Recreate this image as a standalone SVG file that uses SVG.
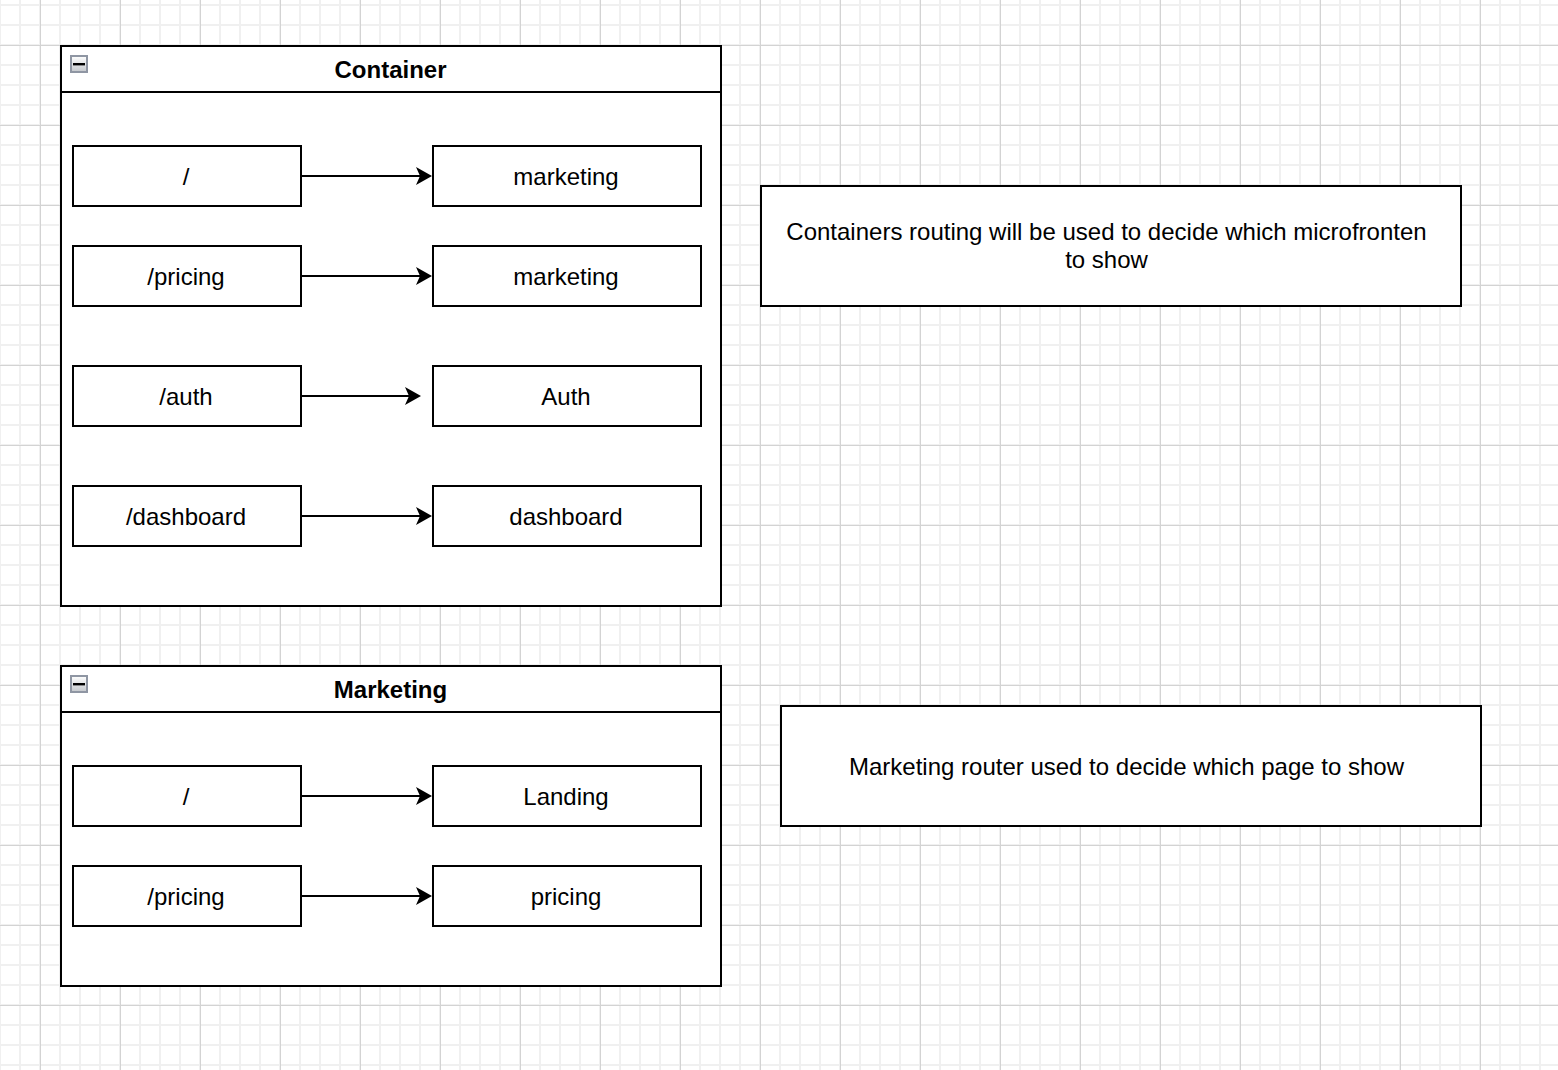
<svg xmlns="http://www.w3.org/2000/svg" width="1558" height="1070" viewBox="0 0 1558 1070">
  <style>
    .box { fill: #ffffff; stroke: #000000; stroke-width: 2; }
    .hdr { fill: none; stroke: #000000; stroke-width: 2; }
    .lbl { font-family: "Liberation Sans", Arial, Helvetica, sans-serif; font-size: 24px; fill: #000000; text-anchor: middle; }
    .ttl { font-family: "Liberation Sans", Arial, Helvetica, sans-serif; font-size: 24px; font-weight: bold; fill: #000000; text-anchor: middle; }
    .note { font-family: "Liberation Sans", Arial, Helvetica, sans-serif; font-size: 24px; fill: #000000; text-anchor: middle; }
    .edge { fill: none; stroke: #000000; stroke-width: 2; }
    .tog { fill: url(#togGrad); stroke: #8f96a3; stroke-width: 2; }
  </style>
  <defs>
    <pattern id="minor" patternUnits="userSpaceOnUse" x="-10" y="-5" width="20" height="20">
      <path d="M10 0 V20 M0 10 H20" fill="none" stroke="#f0f0f0" stroke-width="2"/>
    </pattern>
    <pattern id="major" patternUnits="userSpaceOnUse" x="0" y="5" width="80" height="80">
      <path d="M40.5 0 V80 M0 40.5 H80" fill="none" stroke="#d3d3d3" stroke-width="1"/>
    </pattern>
    <linearGradient id="togGrad" x1="0" y1="0" x2="0" y2="1">
      <stop offset="0" stop-color="#ffffff"/>
      <stop offset="1" stop-color="#c4c7cc"/>
    </linearGradient>
    <marker id="arrow" markerUnits="userSpaceOnUse" markerWidth="18" markerHeight="20" viewBox="0 0 18 20" refX="5" refY="10" orient="auto">
      <path d="M1 1 L17 10 L1 19 L5 10 Z" fill="#000000"/>
    </marker>
  </defs>

  <rect width="1558" height="1070" fill="#ffffff"/>
  <rect width="1558" height="1070" fill="url(#minor)"/>
  <rect width="1558" height="1070" fill="url(#major)"/>

  <g id="container">
    <rect class="box" x="61" y="46" width="660" height="560"/>
    <line class="hdr" x1="61" y1="92" x2="721" y2="92"/>
    <rect class="tog" x="71" y="56" width="16" height="16"/>
    <rect x="73" y="63" width="12" height="2.4" fill="#000000"/>
    <text class="ttl" x="390.5" y="77.5">Container</text>
  </g>

  <g id="marketing-group">
    <rect class="box" x="61" y="666" width="660" height="320"/>
    <line class="hdr" x1="61" y1="712" x2="721" y2="712"/>
    <rect class="tog" x="71" y="676" width="16" height="16"/>
    <rect x="73" y="683" width="12" height="2.4" fill="#000000"/>
    <text class="ttl" x="390.5" y="697.5">Marketing</text>
  </g>

  <g id="route-root">
    <rect class="box" x="73" y="146" width="228" height="60"/>
    <text class="lbl" x="186" y="184.5">/</text>
  </g>
  <g id="mf-marketing-1">
    <rect class="box" x="433" y="146" width="268" height="60"/>
    <text class="lbl" x="566" y="184.5">marketing</text>
  </g>
  <g id="route-pricing">
    <rect class="box" x="73" y="246" width="228" height="60"/>
    <text class="lbl" x="186" y="284.5">/pricing</text>
  </g>
  <g id="mf-marketing-2">
    <rect class="box" x="433" y="246" width="268" height="60"/>
    <text class="lbl" x="566" y="284.5">marketing</text>
  </g>
  <g id="route-auth">
    <rect class="box" x="73" y="366" width="228" height="60"/>
    <text class="lbl" x="186" y="404.5">/auth</text>
  </g>
  <g id="mf-auth">
    <rect class="box" x="433" y="366" width="268" height="60"/>
    <text class="lbl" x="566" y="404.5">Auth</text>
  </g>
  <g id="route-dashboard">
    <rect class="box" x="73" y="486" width="228" height="60"/>
    <text class="lbl" x="186" y="524.5">/dashboard</text>
  </g>
  <g id="mf-dashboard">
    <rect class="box" x="433" y="486" width="268" height="60"/>
    <text class="lbl" x="566" y="524.5">dashboard</text>
  </g>

  <g id="mroute-root">
    <rect class="box" x="73" y="766" width="228" height="60"/>
    <text class="lbl" x="186" y="804.5">/</text>
  </g>
  <g id="page-landing">
    <rect class="box" x="433" y="766" width="268" height="60"/>
    <text class="lbl" x="566" y="804.5">Landing</text>
  </g>
  <g id="mroute-pricing">
    <rect class="box" x="73" y="866" width="228" height="60"/>
    <text class="lbl" x="186" y="904.5">/pricing</text>
  </g>
  <g id="page-pricing">
    <rect class="box" x="433" y="866" width="268" height="60"/>
    <text class="lbl" x="566" y="904.5">pricing</text>
  </g>

  <g id="note-container">
    <rect class="box" x="761" y="186" width="700" height="120"/>
    <text class="note" x="1106.5" y="239.5">Containers routing will be used to decide which microfronten</text>
    <text class="note" x="1106.5" y="267.5">to show</text>
  </g>
  <g id="note-marketing">
    <rect class="box" x="781" y="706" width="700" height="120"/>
    <text class="note" x="1126.5" y="774.5">Marketing router used to decide which page to show</text>
  </g>

  <g id="connectors">
    <line class="edge" x1="301" y1="176" x2="420" y2="176" marker-end="url(#arrow)"/>
    <line class="edge" x1="301" y1="276" x2="420" y2="276" marker-end="url(#arrow)"/>
    <line class="edge" x1="301" y1="396" x2="409" y2="396" marker-end="url(#arrow)"/>
    <line class="edge" x1="301" y1="516" x2="420" y2="516" marker-end="url(#arrow)"/>
    <line class="edge" x1="301" y1="796" x2="420" y2="796" marker-end="url(#arrow)"/>
    <line class="edge" x1="301" y1="896" x2="420" y2="896" marker-end="url(#arrow)"/>
  </g>
</svg>
